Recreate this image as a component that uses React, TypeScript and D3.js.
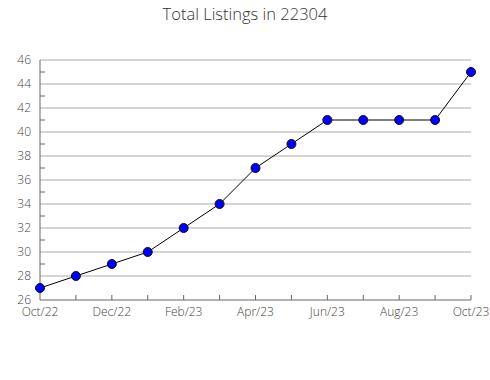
import React from "react";
import * as d3 from "d3";

const months = ["Oct/22","Nov/22","Dec/22","Jan/23","Feb/23","Mar/23","Apr/23","May/23","Jun/23","Jul/23","Aug/23","Sep/23","Oct/23"];
const values = [27, 28, 29, 30, 32, 34, 37, 39, 41, 41, 41, 41, 45];
const yMajor = [26, 28, 30, 32, 34, 36, 38, 40, 42, 44, 46];
const yMinor = [27, 29, 31, 33, 35, 37, 39, 41, 43, 45];
const title = "Total Listings in 22304";

export default function App() {
  const W = 490, H = 380;
  const left = 40, right = 471, top = 60, bottom = 300;
  const x = d3.scaleLinear().domain([0, months.length - 1]).range([left, right]);
  const y = d3.scaleLinear().domain([26, 46]).range([bottom, top]);
  const line = d3.line<number>().x((_, i) => x(i)).y(d => y(d));
  const font = "'Open Sans', 'Noto Sans', sans-serif";
  return (
    <svg width={W} height={H} style={{ position: "absolute", left: 0, top: 0 }}>
      <rect width={W} height={H} fill="#fff" />
      <text x={245} y={20} textAnchor="middle" fontFamily={font} fontSize={16.5} fontWeight={300} fill="#333">{title}</text>
      {yMajor.map(v => (
        <g key={"g" + v}>
          {v !== 26 && <line x1={left} x2={right} y1={y(v)} y2={y(v)} stroke="#aaa" strokeWidth={1} />}
          <text x={31} y={y(v) + 4} textAnchor="end" fontFamily={font} fontSize={12} fontWeight={300} fill="#444">{v}</text>
        </g>
      ))}
      {yMinor.map(v => (
        <line key={"m" + v} x1={left} x2={left + 5} y1={y(v)} y2={y(v)} stroke="#666" strokeWidth={1} />
      ))}
      {months.map((m, i) => (
        <g key={m}>
          {i > 0 && <line x1={x(i)} x2={x(i)} y1={bottom} y2={bottom - 5} stroke="#666" strokeWidth={1} />}
          {i % 2 === 0 && <text x={x(i)} y={bottom + 16} textAnchor="middle" fontFamily={font} fontSize={12} fontWeight={300} fill="#444">{m}</text>}
        </g>
      ))}
      <line x1={left} x2={left} y1={top} y2={bottom} stroke="#666" strokeWidth={1} />
      <line x1={left} x2={right} y1={bottom} y2={bottom} stroke="#666" strokeWidth={1} />
      <path d={line(values) || ""} fill="none" stroke="#000" strokeWidth={1} />
      {values.map((v, i) => (
        <circle key={i} cx={x(i)} cy={y(v)} r={4.5} fill="#0000ff" stroke="#111" strokeWidth={1} />
      ))}
    </svg>
  );
}
